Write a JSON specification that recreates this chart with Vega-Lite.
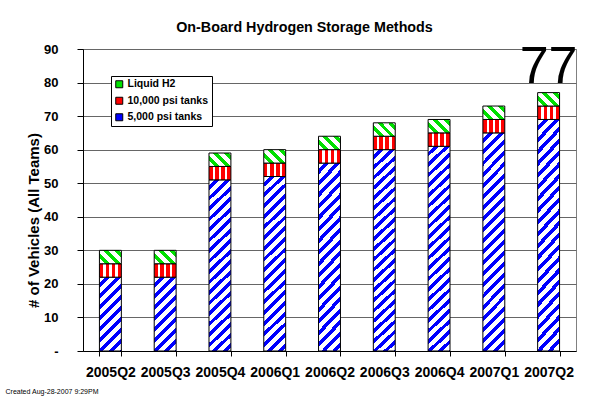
{
  "$schema": "https://vega.github.io/schema/vega-lite/v6.json",
  "width": 493,
  "height": 302,
  "autosize": "none",
  "padding": {"left": 83, "top": 49, "right": 33, "bottom": 67},
  "background": "white",
  "config": {
    "font": "Liberation Sans",
    "view": {"stroke": "#808080", "strokeWidth": 1},
    "axis": {"labelColor": "black", "titleColor": "black", "domainColor": "black", "tickColor": "black"}
  },
  "title": {
    "text": "On-Board  Hydrogen Storage Methods",
    "fontSize": 14.3,
    "fontWeight": "bold",
    "color": "black",
    "anchor": "middle",
    "frame": "group",
    "dx": -25,
    "offset": 5
  },
  "data": {
    "values": [
      {"quarter": "2005Q2", "type": "5,000 psi tanks", "value": 22},
      {"quarter": "2005Q2", "type": "10,000 psi tanks", "value": 4},
      {"quarter": "2005Q2", "type": "Liquid H2", "value": 4},
      {"quarter": "2005Q3", "type": "5,000 psi tanks", "value": 22},
      {"quarter": "2005Q3", "type": "10,000 psi tanks", "value": 4},
      {"quarter": "2005Q3", "type": "Liquid H2", "value": 4},
      {"quarter": "2005Q4", "type": "5,000 psi tanks", "value": 51},
      {"quarter": "2005Q4", "type": "10,000 psi tanks", "value": 4},
      {"quarter": "2005Q4", "type": "Liquid H2", "value": 4},
      {"quarter": "2006Q1", "type": "5,000 psi tanks", "value": 52},
      {"quarter": "2006Q1", "type": "10,000 psi tanks", "value": 4},
      {"quarter": "2006Q1", "type": "Liquid H2", "value": 4},
      {"quarter": "2006Q2", "type": "5,000 psi tanks", "value": 56},
      {"quarter": "2006Q2", "type": "10,000 psi tanks", "value": 4},
      {"quarter": "2006Q2", "type": "Liquid H2", "value": 4},
      {"quarter": "2006Q3", "type": "5,000 psi tanks", "value": 60},
      {"quarter": "2006Q3", "type": "10,000 psi tanks", "value": 4},
      {"quarter": "2006Q3", "type": "Liquid H2", "value": 4},
      {"quarter": "2006Q4", "type": "5,000 psi tanks", "value": 61},
      {"quarter": "2006Q4", "type": "10,000 psi tanks", "value": 4},
      {"quarter": "2006Q4", "type": "Liquid H2", "value": 4},
      {"quarter": "2007Q1", "type": "5,000 psi tanks", "value": 65},
      {"quarter": "2007Q1", "type": "10,000 psi tanks", "value": 4},
      {"quarter": "2007Q1", "type": "Liquid H2", "value": 4},
      {"quarter": "2007Q2", "type": "5,000 psi tanks", "value": 69},
      {"quarter": "2007Q2", "type": "10,000 psi tanks", "value": 4},
      {"quarter": "2007Q2", "type": "Liquid H2", "value": 4}
    ]
  },
  "encoding": {
    "x": {
      "field": "quarter",
      "type": "nominal",
      "sort": null,
      "scale": {"paddingInner": 0.6, "paddingOuter": 0.3},
      "axis": {
        "title": "Created Aug-28-2007 9:29PM",
        "titleFontSize": 7,
        "titleFontWeight": "normal",
        "titleAnchor": "start",
        "titleAlign": "left",
        "titleBaseline": "middle",
        "titleX": -78,
        "titleY": 40,
        "labelAngle": 0,
        "labelFontSize": 14,
        "labelFontWeight": "bold",
        "labelPadding": 9,
        "tickSize": 5,
        "tickBand": "extent",
        "labelOverlap": false
      }
    }
  },
  "layer": [
    {
      "transform": [
        {"stack": "value", "groupby": ["quarter"], "sort": [{"field": "value", "order": "descending"}, {"field": "type", "order": "ascending"}], "as": ["v0", "v1"]}
      ],
      "mark": {"type": "bar", "stroke": "black", "strokeWidth": 1},
      "encoding": {
        "y": {
          "field": "v0",
          "type": "quantitative",
          "scale": {"domain": [0, 90], "nice": false},
          "axis": {
            "title": "# of Vehicles (All Teams)",
            "titleFontSize": 15,
            "titleFontWeight": "bold",
            "titleAngle": 270,
            "titleAlign": "center",
            "titleBaseline": "middle",
            "titleX": -50,
            "titleY": 171,
            "values": [0, 10, 20, 30, 40, 50, 60, 70, 80, 90],
            "labelExpr": "datum.value === 0 ? '-' : datum.label",
            "labelFontSize": 13,
            "labelFontWeight": "bold",
            "labelPadding": 19,
            "tickSize": 6,
            "grid": true,
            "gridColor": "#666666",
            "gridWidth": 1
          }
        },
        "y2": {"field": "v1"},
        "color": {
          "field": "type",
          "type": "nominal",
          "scale": {
            "domain": ["5,000 psi tanks", "10,000 psi tanks", "Liquid H2"],
            "range": ["blue", "red", "#00E000"]
          },
          "legend": {
            "title": null,
            "orient": "none",
            "legendX": 28,
            "legendY": 27,
            "values": ["Liquid H2", "10,000 psi tanks", "5,000 psi tanks"],
            "symbolType": "square",
            "symbolSize": 49,
            "symbolStrokeColor": "black",
            "symbolStrokeWidth": 1,
            "labelFontSize": 10.5,
            "labelFontWeight": "bold",
            "labelColor": "black",
            "labelOffset": 3,
            "padding": 3,
            "rowPadding": 4.5,
            "fillColor": "white",
            "strokeColor": "black",
            "cornerRadius": 0
          },
          "condition": [
            {"test": "datum.type === 'Liquid H2'", "value": {"gradient": "linear", "x1": 0, "y1": 1, "x2": 1.1736, "y2": 0.2852, "stops": [{"offset": 0, "color": "white"}, {"offset": 0.17, "color": "white"}, {"offset": 0.17, "color": "#00E000"}, {"offset": 0.31, "color": "#00E000"}, {"offset": 0.31, "color": "white"}, {"offset": 0.48, "color": "white"}, {"offset": 0.48, "color": "#00E000"}, {"offset": 0.62, "color": "#00E000"}, {"offset": 0.62, "color": "white"}, {"offset": 0.79, "color": "white"}, {"offset": 0.79, "color": "#00E000"}, {"offset": 0.93, "color": "#00E000"}, {"offset": 0.93, "color": "white"}, {"offset": 1, "color": "white"}]}},
            {"test": "datum.type === '10,000 psi tanks'", "value": {"gradient": "linear", "x1": 0, "y1": 0, "x2": 1, "y2": 0, "stops": [{"offset": 0, "color": "red"}, {"offset": 0.168, "color": "red"}, {"offset": 0.168, "color": "white"}, {"offset": 0.277, "color": "white"}, {"offset": 0.277, "color": "red"}, {"offset": 0.445, "color": "red"}, {"offset": 0.445, "color": "white"}, {"offset": 0.555, "color": "white"}, {"offset": 0.555, "color": "red"}, {"offset": 0.723, "color": "red"}, {"offset": 0.723, "color": "white"}, {"offset": 0.832, "color": "white"}, {"offset": 0.832, "color": "red"}, {"offset": 1, "color": "red"}]}},
            {"test": "datum.value < 30", "value": {"gradient": "linear", "x1": 0, "y1": 0, "x2": 0.3554, "y2": 1.1923, "stops": [{"offset": 0, "color": "white"}, {"offset": 0.0632, "color": "white"}, {"offset": 0.0632, "color": "blue"}, {"offset": 0.1148, "color": "blue"}, {"offset": 0.1148, "color": "white"}, {"offset": 0.178, "color": "white"}, {"offset": 0.178, "color": "blue"}, {"offset": 0.2296, "color": "blue"}, {"offset": 0.2296, "color": "white"}, {"offset": 0.2928, "color": "white"}, {"offset": 0.2928, "color": "blue"}, {"offset": 0.3445, "color": "blue"}, {"offset": 0.3445, "color": "white"}, {"offset": 0.4077, "color": "white"}, {"offset": 0.4077, "color": "blue"}, {"offset": 0.4593, "color": "blue"}, {"offset": 0.4593, "color": "white"}, {"offset": 0.5225, "color": "white"}, {"offset": 0.5225, "color": "blue"}, {"offset": 0.5741, "color": "blue"}, {"offset": 0.5741, "color": "white"}, {"offset": 0.6373, "color": "white"}, {"offset": 0.6373, "color": "blue"}, {"offset": 0.6889, "color": "blue"}, {"offset": 0.6889, "color": "white"}, {"offset": 0.7521, "color": "white"}, {"offset": 0.7521, "color": "blue"}, {"offset": 0.8037, "color": "blue"}, {"offset": 0.8037, "color": "white"}, {"offset": 0.8669, "color": "white"}, {"offset": 0.8669, "color": "blue"}, {"offset": 0.9186, "color": "blue"}, {"offset": 0.9186, "color": "white"}, {"offset": 0.9818, "color": "white"}, {"offset": 0.9818, "color": "blue"}, {"offset": 1, "color": "blue"}]}},
            {"test": "datum.value < 58", "value": {"gradient": "linear", "x1": 0, "y1": 0, "x2": 0.13555, "y2": 1.106, "stops": [{"offset": 0, "color": "white"}, {"offset": 0.03003, "color": "white"}, {"offset": 0.03003, "color": "blue"}, {"offset": 0.05459, "color": "blue"}, {"offset": 0.05459, "color": "white"}, {"offset": 0.08462, "color": "white"}, {"offset": 0.08462, "color": "blue"}, {"offset": 0.10918, "color": "blue"}, {"offset": 0.10918, "color": "white"}, {"offset": 0.13921, "color": "white"}, {"offset": 0.13921, "color": "blue"}, {"offset": 0.16377, "color": "blue"}, {"offset": 0.16377, "color": "white"}, {"offset": 0.1938, "color": "white"}, {"offset": 0.1938, "color": "blue"}, {"offset": 0.21836, "color": "blue"}, {"offset": 0.21836, "color": "white"}, {"offset": 0.24839, "color": "white"}, {"offset": 0.24839, "color": "blue"}, {"offset": 0.27296, "color": "blue"}, {"offset": 0.27296, "color": "white"}, {"offset": 0.30299, "color": "white"}, {"offset": 0.30299, "color": "blue"}, {"offset": 0.32755, "color": "blue"}, {"offset": 0.32755, "color": "white"}, {"offset": 0.35758, "color": "white"}, {"offset": 0.35758, "color": "blue"}, {"offset": 0.38214, "color": "blue"}, {"offset": 0.38214, "color": "white"}, {"offset": 0.41217, "color": "white"}, {"offset": 0.41217, "color": "blue"}, {"offset": 0.43673, "color": "blue"}, {"offset": 0.43673, "color": "white"}, {"offset": 0.46676, "color": "white"}, {"offset": 0.46676, "color": "blue"}, {"offset": 0.49132, "color": "blue"}, {"offset": 0.49132, "color": "white"}, {"offset": 0.52135, "color": "white"}, {"offset": 0.52135, "color": "blue"}, {"offset": 0.54591, "color": "blue"}, {"offset": 0.54591, "color": "white"}, {"offset": 0.57594, "color": "white"}, {"offset": 0.57594, "color": "blue"}, {"offset": 0.6005, "color": "blue"}, {"offset": 0.6005, "color": "white"}, {"offset": 0.63053, "color": "white"}, {"offset": 0.63053, "color": "blue"}, {"offset": 0.65509, "color": "blue"}, {"offset": 0.65509, "color": "white"}, {"offset": 0.68512, "color": "white"}, {"offset": 0.68512, "color": "blue"}, {"offset": 0.70968, "color": "blue"}, {"offset": 0.70968, "color": "white"}, {"offset": 0.73971, "color": "white"}, {"offset": 0.73971, "color": "blue"}, {"offset": 0.76427, "color": "blue"}, {"offset": 0.76427, "color": "white"}, {"offset": 0.7943, "color": "white"}, {"offset": 0.7943, "color": "blue"}, {"offset": 0.81887, "color": "blue"}, {"offset": 0.81887, "color": "white"}, {"offset": 0.8489, "color": "white"}, {"offset": 0.8489, "color": "blue"}, {"offset": 0.87346, "color": "blue"}, {"offset": 0.87346, "color": "white"}, {"offset": 0.90349, "color": "white"}, {"offset": 0.90349, "color": "blue"}, {"offset": 0.92805, "color": "blue"}, {"offset": 0.92805, "color": "white"}, {"offset": 0.95808, "color": "white"}, {"offset": 0.95808, "color": "blue"}, {"offset": 0.98264, "color": "blue"}, {"offset": 0.98264, "color": "white"}, {"offset": 1, "color": "white"}]}},
            {"test": "datum.type === '5,000 psi tanks'", "value": {"gradient": "linear", "x1": 0, "y1": 0, "x2": 0.1108, "y2": 1.0904, "stops": [{"offset": 0, "color": "white"}, {"offset": 0.02537, "color": "white"}, {"offset": 0.02537, "color": "blue"}, {"offset": 0.04612, "color": "blue"}, {"offset": 0.04612, "color": "white"}, {"offset": 0.07149, "color": "white"}, {"offset": 0.07149, "color": "blue"}, {"offset": 0.09224, "color": "blue"}, {"offset": 0.09224, "color": "white"}, {"offset": 0.11761, "color": "white"}, {"offset": 0.11761, "color": "blue"}, {"offset": 0.13837, "color": "blue"}, {"offset": 0.13837, "color": "white"}, {"offset": 0.16373, "color": "white"}, {"offset": 0.16373, "color": "blue"}, {"offset": 0.18449, "color": "blue"}, {"offset": 0.18449, "color": "white"}, {"offset": 0.20986, "color": "white"}, {"offset": 0.20986, "color": "blue"}, {"offset": 0.23061, "color": "blue"}, {"offset": 0.23061, "color": "white"}, {"offset": 0.25598, "color": "white"}, {"offset": 0.25598, "color": "blue"}, {"offset": 0.27673, "color": "blue"}, {"offset": 0.27673, "color": "white"}, {"offset": 0.3021, "color": "white"}, {"offset": 0.3021, "color": "blue"}, {"offset": 0.32285, "color": "blue"}, {"offset": 0.32285, "color": "white"}, {"offset": 0.34822, "color": "white"}, {"offset": 0.34822, "color": "blue"}, {"offset": 0.36898, "color": "blue"}, {"offset": 0.36898, "color": "white"}, {"offset": 0.39434, "color": "white"}, {"offset": 0.39434, "color": "blue"}, {"offset": 0.4151, "color": "blue"}, {"offset": 0.4151, "color": "white"}, {"offset": 0.44047, "color": "white"}, {"offset": 0.44047, "color": "blue"}, {"offset": 0.46122, "color": "blue"}, {"offset": 0.46122, "color": "white"}, {"offset": 0.48659, "color": "white"}, {"offset": 0.48659, "color": "blue"}, {"offset": 0.50734, "color": "blue"}, {"offset": 0.50734, "color": "white"}, {"offset": 0.53271, "color": "white"}, {"offset": 0.53271, "color": "blue"}, {"offset": 0.55346, "color": "blue"}, {"offset": 0.55346, "color": "white"}, {"offset": 0.57883, "color": "white"}, {"offset": 0.57883, "color": "blue"}, {"offset": 0.59959, "color": "blue"}, {"offset": 0.59959, "color": "white"}, {"offset": 0.62495, "color": "white"}, {"offset": 0.62495, "color": "blue"}, {"offset": 0.64571, "color": "blue"}, {"offset": 0.64571, "color": "white"}, {"offset": 0.67108, "color": "white"}, {"offset": 0.67108, "color": "blue"}, {"offset": 0.69183, "color": "blue"}, {"offset": 0.69183, "color": "white"}, {"offset": 0.7172, "color": "white"}, {"offset": 0.7172, "color": "blue"}, {"offset": 0.73795, "color": "blue"}, {"offset": 0.73795, "color": "white"}, {"offset": 0.76332, "color": "white"}, {"offset": 0.76332, "color": "blue"}, {"offset": 0.78407, "color": "blue"}, {"offset": 0.78407, "color": "white"}, {"offset": 0.80944, "color": "white"}, {"offset": 0.80944, "color": "blue"}, {"offset": 0.8302, "color": "blue"}, {"offset": 0.8302, "color": "white"}, {"offset": 0.85556, "color": "white"}, {"offset": 0.85556, "color": "blue"}, {"offset": 0.87632, "color": "blue"}, {"offset": 0.87632, "color": "white"}, {"offset": 0.90169, "color": "white"}, {"offset": 0.90169, "color": "blue"}, {"offset": 0.92244, "color": "blue"}, {"offset": 0.92244, "color": "white"}, {"offset": 0.94781, "color": "white"}, {"offset": 0.94781, "color": "blue"}, {"offset": 0.96856, "color": "blue"}, {"offset": 0.96856, "color": "white"}, {"offset": 0.99393, "color": "white"}, {"offset": 0.99393, "color": "blue"}, {"offset": 1, "color": "blue"}]}}
          ]
        }
      }
    },
    {
      "transform": [
        {"filter": "datum.quarter === '2007Q2'"},
        {"aggregate": [{"op": "sum", "field": "value", "as": "total"}], "groupby": ["quarter"]}
      ],
      "mark": {"type": "text", "fontSize": 52, "font": "Liberation Sans", "color": "black", "baseline": "alphabetic", "align": "center", "dy": -10},
      "encoding": {
        "y": {
          "field": "total",
          "type": "quantitative",
          "axis": {
            "title": "# of Vehicles (All Teams)",
            "titleFontSize": 15,
            "titleFontWeight": "bold",
            "titleAngle": 270,
            "titleAlign": "center",
            "titleBaseline": "middle",
            "titleX": -50,
            "titleY": 171,
            "values": [0, 10, 20, 30, 40, 50, 60, 70, 80, 90],
            "labelExpr": "datum.value === 0 ? '-' : datum.label",
            "labelFontSize": 13,
            "labelFontWeight": "bold",
            "labelPadding": 19,
            "tickSize": 6,
            "grid": true,
            "gridColor": "#666666",
            "gridWidth": 1
          }
        },
        "text": {"field": "total", "type": "quantitative"}
      }
    }
  ]
}
